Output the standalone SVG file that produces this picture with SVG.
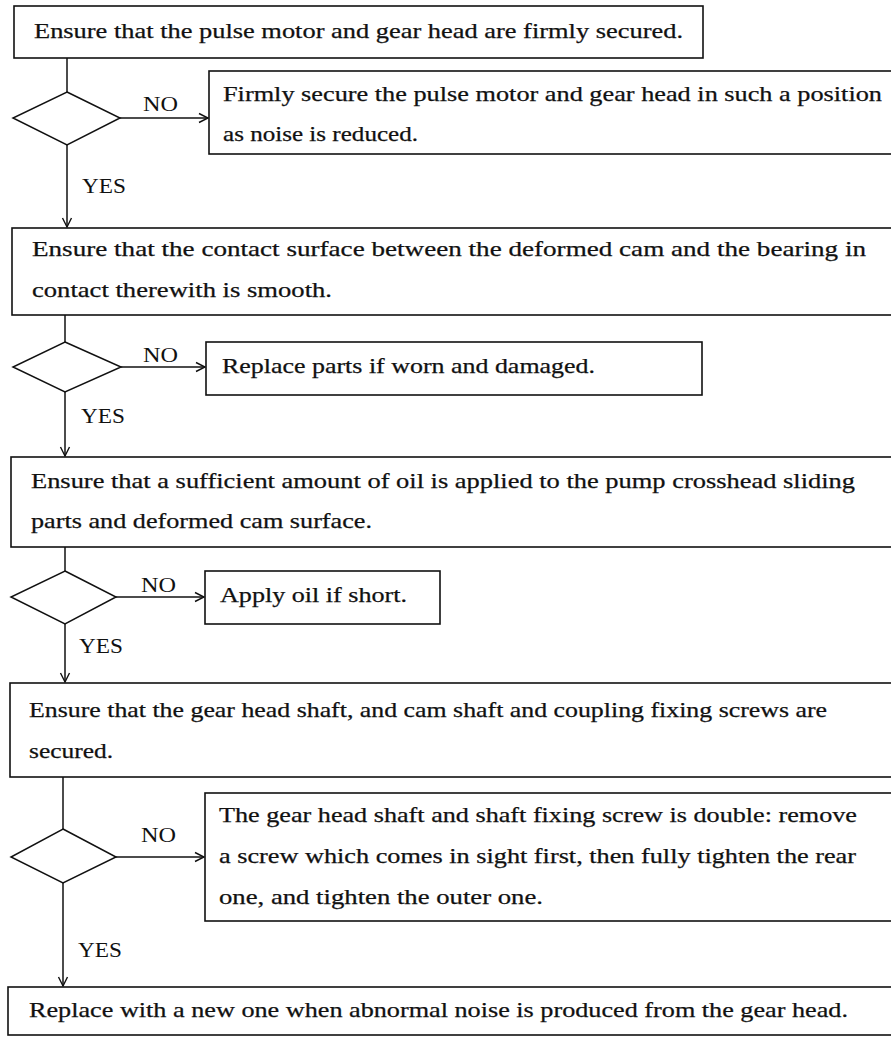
<svg xmlns="http://www.w3.org/2000/svg" width="891" height="1038" viewBox="0 0 891 1038">
  <style>
    .box { fill: #fff; stroke: #111; stroke-width: 1.6; }
    .dec { fill: #fff; stroke: #111; stroke-width: 1.5; }
    .t { font-family: "Liberation Serif", "Times New Roman", serif; font-size: 21px; fill: #111; stroke: #111; stroke-width: 0.25; }
    .lbl { font-family: "Liberation Serif", "Times New Roman", serif; font-size: 21px; fill: #111; }
    .edge { fill: none; stroke: #111; stroke-width: 1.5; }
  </style>
  <defs>
    <marker id="arr" markerWidth="12" markerHeight="12" refX="10" refY="6" orient="auto" markerUnits="userSpaceOnUse">
      <polyline points="1,1.5 10,6 1,10.5" fill="none" stroke="#111" stroke-width="1.4"/>
    </marker>
  </defs>
  <rect width="891" height="1038" fill="#fff"/>

  <!-- connectors and branch labels -->
  <g id="connectors">
    <line class="edge" x1="67" y1="58" x2="67" y2="92"/>
    <line class="edge" x1="120" y1="118" x2="208" y2="118" marker-end="url(#arr)"/>
    <line class="edge" x1="67" y1="145" x2="67" y2="227" marker-end="url(#arr)"/>
    <text class="lbl" x="143" y="111" textLength="35" lengthAdjust="spacingAndGlyphs">NO</text>
    <text class="lbl" x="82" y="193" textLength="44" lengthAdjust="spacingAndGlyphs">YES</text>

    <line class="edge" x1="65" y1="315" x2="65" y2="342"/>
    <line class="edge" x1="121" y1="367" x2="205" y2="367" marker-end="url(#arr)"/>
    <line class="edge" x1="65" y1="392" x2="65" y2="456" marker-end="url(#arr)"/>
    <text class="lbl" x="143" y="362" textLength="35" lengthAdjust="spacingAndGlyphs">NO</text>
    <text class="lbl" x="81" y="423" textLength="44" lengthAdjust="spacingAndGlyphs">YES</text>

    <line class="edge" x1="65" y1="547" x2="65" y2="571"/>
    <line class="edge" x1="116" y1="597" x2="204" y2="597" marker-end="url(#arr)"/>
    <line class="edge" x1="65" y1="624" x2="65" y2="682" marker-end="url(#arr)"/>
    <text class="lbl" x="141" y="592" textLength="35" lengthAdjust="spacingAndGlyphs">NO</text>
    <text class="lbl" x="79" y="653" textLength="44" lengthAdjust="spacingAndGlyphs">YES</text>

    <line class="edge" x1="63" y1="777" x2="63" y2="829"/>
    <line class="edge" x1="116" y1="857" x2="204" y2="857" marker-end="url(#arr)"/>
    <line class="edge" x1="63" y1="883" x2="63" y2="986" marker-end="url(#arr)"/>
    <text class="lbl" x="141" y="842" textLength="35" lengthAdjust="spacingAndGlyphs">NO</text>
    <text class="lbl" x="78" y="957" textLength="44" lengthAdjust="spacingAndGlyphs">YES</text>
  </g>

  <!-- step 1 -->
  <g id="n1">
    <rect class="box" x="14" y="6" width="689" height="52"/>
    <text class="t" x="34" y="38" textLength="649" lengthAdjust="spacingAndGlyphs">Ensure that the pulse motor and gear head are firmly secured.</text>
  </g>
  <g id="d1">
    <polygon class="dec" points="67,92 120,118 67,145 13,118"/>
  </g>
  <g id="n1no">
    <rect class="box" x="209" y="71" width="700" height="83"/>
    <text class="t" x="223" y="101" textLength="659" lengthAdjust="spacingAndGlyphs">Firmly secure the pulse motor and gear head in such a position</text>
    <text class="t" x="223" y="141" textLength="195" lengthAdjust="spacingAndGlyphs">as noise is reduced.</text>
  </g>

  <!-- step 2 -->
  <g id="n2">
    <rect class="box" x="12" y="228" width="900" height="87"/>
    <text class="t" x="32" y="256" textLength="834" lengthAdjust="spacingAndGlyphs">Ensure that the contact surface between the deformed cam and the bearing in</text>
    <text class="t" x="32" y="297" textLength="300" lengthAdjust="spacingAndGlyphs">contact therewith is smooth.</text>
  </g>
  <g id="d2">
    <polygon class="dec" points="65,342 121,367 65,392 13,367"/>
  </g>
  <g id="n2no">
    <rect class="box" x="206" y="342" width="496" height="53"/>
    <text class="t" x="222" y="373" textLength="373" lengthAdjust="spacingAndGlyphs">Replace parts if worn and damaged.</text>
  </g>

  <!-- step 3 -->
  <g id="n3">
    <rect class="box" x="11" y="457" width="900" height="90"/>
    <text class="t" x="31" y="488" textLength="824" lengthAdjust="spacingAndGlyphs">Ensure that a sufficient amount of oil is applied to the pump crosshead sliding</text>
    <text class="t" x="31" y="528" textLength="341" lengthAdjust="spacingAndGlyphs">parts and deformed cam surface.</text>
  </g>
  <g id="d3">
    <polygon class="dec" points="65,571 116,597 65,624 11,597"/>
  </g>
  <g id="n3no">
    <rect class="box" x="205" y="571" width="235" height="53"/>
    <text class="t" x="220" y="602" textLength="187" lengthAdjust="spacingAndGlyphs">Apply oil if short.</text>
  </g>

  <!-- step 4 -->
  <g id="n4">
    <rect class="box" x="10" y="683" width="900" height="94"/>
    <text class="t" x="29" y="717" textLength="798" lengthAdjust="spacingAndGlyphs">Ensure that the gear head shaft, and cam shaft and coupling fixing screws are</text>
    <text class="t" x="29" y="758" textLength="84" lengthAdjust="spacingAndGlyphs">secured.</text>
  </g>
  <g id="d4">
    <polygon class="dec" points="63,829 116,857 63,883 11,857"/>
  </g>
  <g id="n4no">
    <rect class="box" x="205" y="793" width="700" height="128"/>
    <text class="t" x="219" y="822" textLength="638" lengthAdjust="spacingAndGlyphs">The gear head shaft and shaft fixing screw is double:  remove</text>
    <text class="t" x="219" y="863" textLength="637" lengthAdjust="spacingAndGlyphs">a screw which comes in sight first, then fully tighten the rear</text>
    <text class="t" x="219" y="904" textLength="324" lengthAdjust="spacingAndGlyphs">one, and tighten the outer one.</text>
  </g>

  <!-- final step -->
  <g id="n5">
    <rect class="box" x="8" y="987" width="900" height="48"/>
    <text class="t" x="29" y="1017" textLength="819" lengthAdjust="spacingAndGlyphs">Replace with a new one when abnormal noise is produced from the gear head.</text>
  </g>
</svg>
